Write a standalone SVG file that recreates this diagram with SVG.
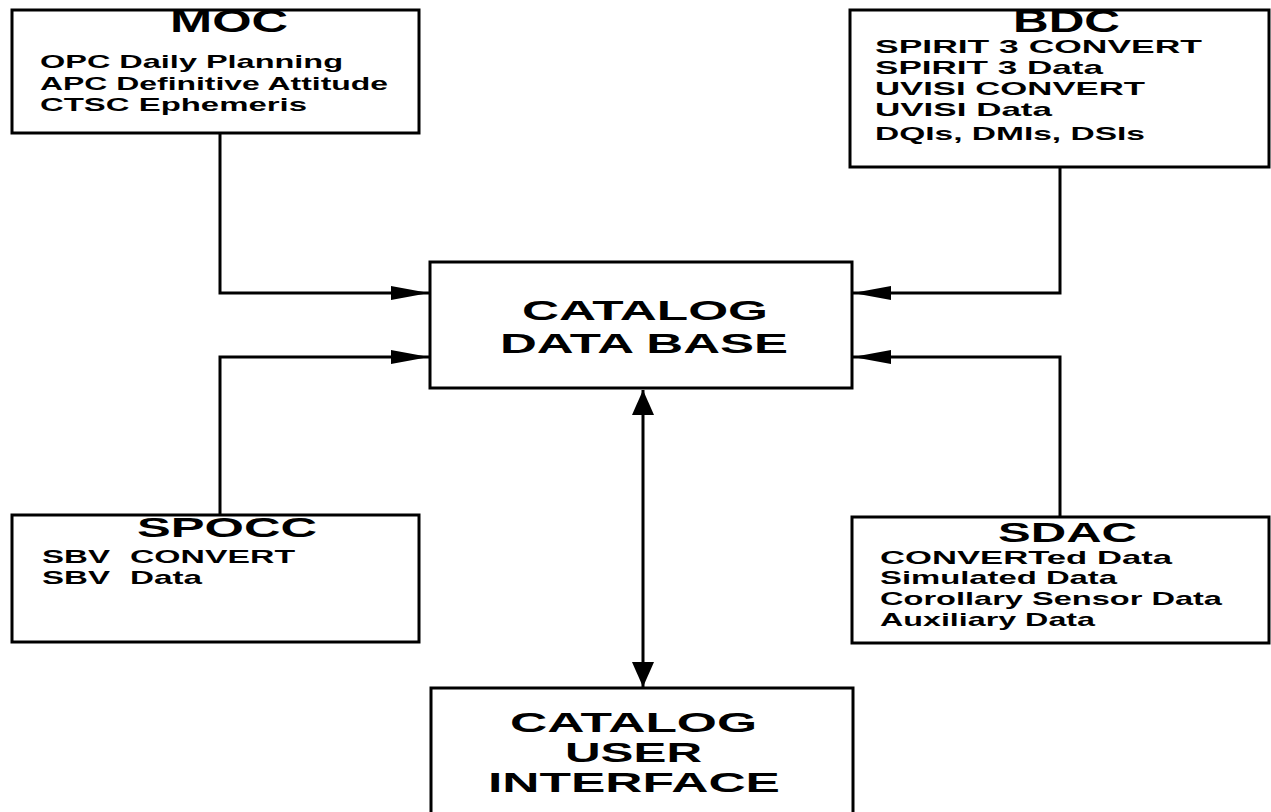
<svg xmlns="http://www.w3.org/2000/svg" width="1271" height="812" viewBox="0 0 1271 812">
<defs>
<style>
.box{fill:#fff;stroke:#000;stroke-width:3}
.ln{fill:none;stroke:#000;stroke-width:3}
.t{font-family:"Liberation Sans",Arial,sans-serif;font-weight:bold;fill:#000}
.ttl{font-size:32px}
.big{font-size:28px}
.body{font-size:18.5px}
</style>
<marker id="ah" viewBox="0 0 38 14" refX="38" refY="7" markerWidth="38" markerHeight="14" markerUnits="userSpaceOnUse" orient="auto">
<path d="M0,0 L38,7 L0,14 z" fill="#000"/>
</marker>
<marker id="av" viewBox="0 0 25 22" refX="25" refY="11" markerWidth="25" markerHeight="22" markerUnits="userSpaceOnUse" orient="auto-start-reverse">
<path d="M0,0 L25,11 L0,22 z" fill="#000"/>
</marker>
</defs>
<rect width="1271" height="812" fill="#fff"/>
<g id="connectors">
<path class="ln" d="M220,133 V293 H429" marker-end="url(#ah)"/>
<path class="ln" d="M1060,167 V293 H853" marker-end="url(#ah)"/>
<path class="ln" d="M220,515 V357 H429" marker-end="url(#ah)"/>
<path class="ln" d="M1060,517 V357 H853" marker-end="url(#ah)"/>
<path class="ln" d="M643,390 V687" marker-start="url(#av)" marker-end="url(#av)"/>
</g>
<g id="moc">
<rect class="box" x="12" y="10" width="407" height="123"/>
<text class="t ttl" x="170" y="32" textLength="118" lengthAdjust="spacingAndGlyphs">MOC</text>
<text class="t body" x="40" y="68" textLength="303" lengthAdjust="spacingAndGlyphs">OPC Daily Planning</text>
<text class="t body" x="40" y="90" textLength="348" lengthAdjust="spacingAndGlyphs">APC Definitive Attitude</text>
<text class="t body" x="40" y="111" textLength="267" lengthAdjust="spacingAndGlyphs">CTSC Ephemeris</text>
</g>
<g id="bdc">
<rect class="box" x="850" y="10" width="419" height="157"/>
<text class="t ttl" x="1013" y="32" textLength="107" lengthAdjust="spacingAndGlyphs">BDC</text>
<text class="t body" x="875" y="53" textLength="327" lengthAdjust="spacingAndGlyphs">SPIRIT 3 CONVERT</text>
<text class="t body" x="875" y="74" textLength="228" lengthAdjust="spacingAndGlyphs">SPIRIT 3 Data</text>
<text class="t body" x="875" y="95" textLength="270" lengthAdjust="spacingAndGlyphs">UVISI CONVERT</text>
<text class="t body" x="875" y="116" textLength="177" lengthAdjust="spacingAndGlyphs">UVISI Data</text>
<text class="t body" x="875" y="140" textLength="270" lengthAdjust="spacingAndGlyphs">DQIs, DMIs, DSIs</text>
</g>
<g id="catalog-db">
<rect class="box" x="430" y="262" width="422" height="126"/>
<text class="t big" x="522" y="320" textLength="246" lengthAdjust="spacingAndGlyphs">CATALOG</text>
<text class="t big" x="500" y="353" textLength="288" lengthAdjust="spacingAndGlyphs">DATA BASE</text>
</g>
<g id="spocc">
<rect class="box" x="12" y="515" width="407" height="127"/>
<text class="t big" x="137" y="537" textLength="180" lengthAdjust="spacingAndGlyphs">SPOCC</text>
<text class="t body" y="563"><tspan x="42" textLength="68" lengthAdjust="spacingAndGlyphs">SBV</tspan><tspan x="130" textLength="165" lengthAdjust="spacingAndGlyphs">CONVERT</tspan></text>
<text class="t body" y="584"><tspan x="42" textLength="68" lengthAdjust="spacingAndGlyphs">SBV</tspan><tspan x="130" textLength="72" lengthAdjust="spacingAndGlyphs">Data</tspan></text>
</g>
<g id="sdac">
<rect class="box" x="852" y="517" width="417" height="126"/>
<text class="t big" x="998" y="542" textLength="139" lengthAdjust="spacingAndGlyphs">SDAC</text>
<text class="t body" x="880" y="564" textLength="292" lengthAdjust="spacingAndGlyphs">CONVERTed Data</text>
<text class="t body" x="880" y="584" textLength="237" lengthAdjust="spacingAndGlyphs">Simulated Data</text>
<text class="t body" x="880" y="605" textLength="342" lengthAdjust="spacingAndGlyphs">Corollary Sensor Data</text>
<text class="t body" x="880" y="626" textLength="215" lengthAdjust="spacingAndGlyphs">Auxiliary Data</text>
</g>
<g id="catalog-ui">
<rect class="box" x="431" y="688" width="422" height="140"/>
<text class="t big" x="510" y="732" textLength="247" lengthAdjust="spacingAndGlyphs">CATALOG</text>
<text class="t big" x="565" y="762" textLength="137" lengthAdjust="spacingAndGlyphs">USER</text>
<text class="t big" x="488" y="792" textLength="292" lengthAdjust="spacingAndGlyphs">INTERFACE</text>
</g>
</svg>
